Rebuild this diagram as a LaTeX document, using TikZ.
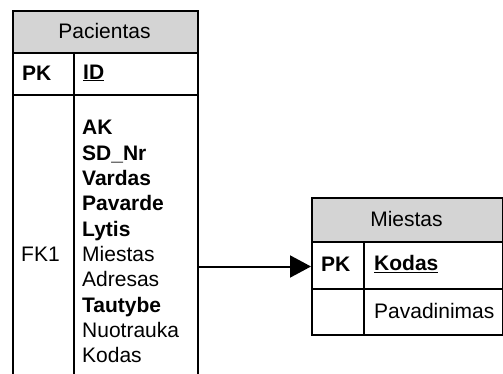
\documentclass[tikz,border=0pt]{standalone}
\usepackage{fontspec}
\setmainfont{Liberation Sans}
\usetikzlibrary{arrows.meta}
\definecolor{hdrgray}{HTML}{D4D4D4}
\tikzset{
  tbl/.style={draw=black, line width=1.7pt, inner sep=0pt, anchor=north west},
  hdr/.style={tbl, fill=hdrgray},
  txt/.style={inner sep=0pt, font=\fontsize{21}{25}\selectfont},
  attr/.style={txt, anchor=base west},
  key/.style={txt, anchor=west, font=\fontsize{21}{25}\selectfont\bfseries},
  rel/.style={line width=2pt, -{Triangle[length=21pt,width=22pt]}}
}
\begin{document}
\begin{tikzpicture}[x=1pt, y=-1pt]
\useasboundingbox (0,0) rectangle (503,374);

% Pacientas table
\node[hdr, minimum width=185pt, minimum height=42pt] (pachdr) at (12,10) {};
\node[tbl, minimum width=185pt, minimum height=42pt] (pacpk) at (12,52) {};
\node[tbl, minimum width=185pt, minimum height=320pt] (pac) at (12,94) {};
\draw[line width=1.7pt] (74,52) -- (74,420);
\node[txt] (pactitle) at (104.5,31) {Pacientas};
\node[key] (pacpklbl) at (22,73) {PK};
\node[key] (pacid) at (83,73) {\underline{ID}};

% attribute list
\foreach \t [count=\i from 0] in {%
  \textbf{AK},\textbf{SD\_Nr},\textbf{Vardas},\textbf{Pavarde},\textbf{Lytis},%
  Miestas,Adresas,\textbf{Tautybe},Nuotrauka,Kodas}
  \node[attr] (a\i) at (82,{135+25.3*\i}) {\t};
\node[attr] (fk) at (21,{135+25.3*5}) {FK1};

% Miestas table
\node[hdr, minimum width=191pt, minimum height=44pt] (miehdr) at (311,197) {};
\node[tbl, minimum width=191pt, minimum height=47pt] (miepk) at (311,241) {};
\node[tbl, minimum width=191pt, minimum height=46pt] (mierow) at (311,288) {};
\draw[line width=1.7pt] (364,241) -- (364,334);
\node[txt] (mietitle) at (406.5,219) {Miestas};
\node[key] (miepklbl) at (321,264) {PK};
\node[key] (miekodas) at (374,264) {\underline{Kodas}};
\node[txt, anchor=west] (miepav) at (374,311) {Pavadinimas};

% relation Pacientas.Miestas -> Miestas.Kodas
\coordinate (tip) at (311,266.5);
\draw[rel] (pac.east |- tip) -- (tip);
\end{tikzpicture}
\end{document}
